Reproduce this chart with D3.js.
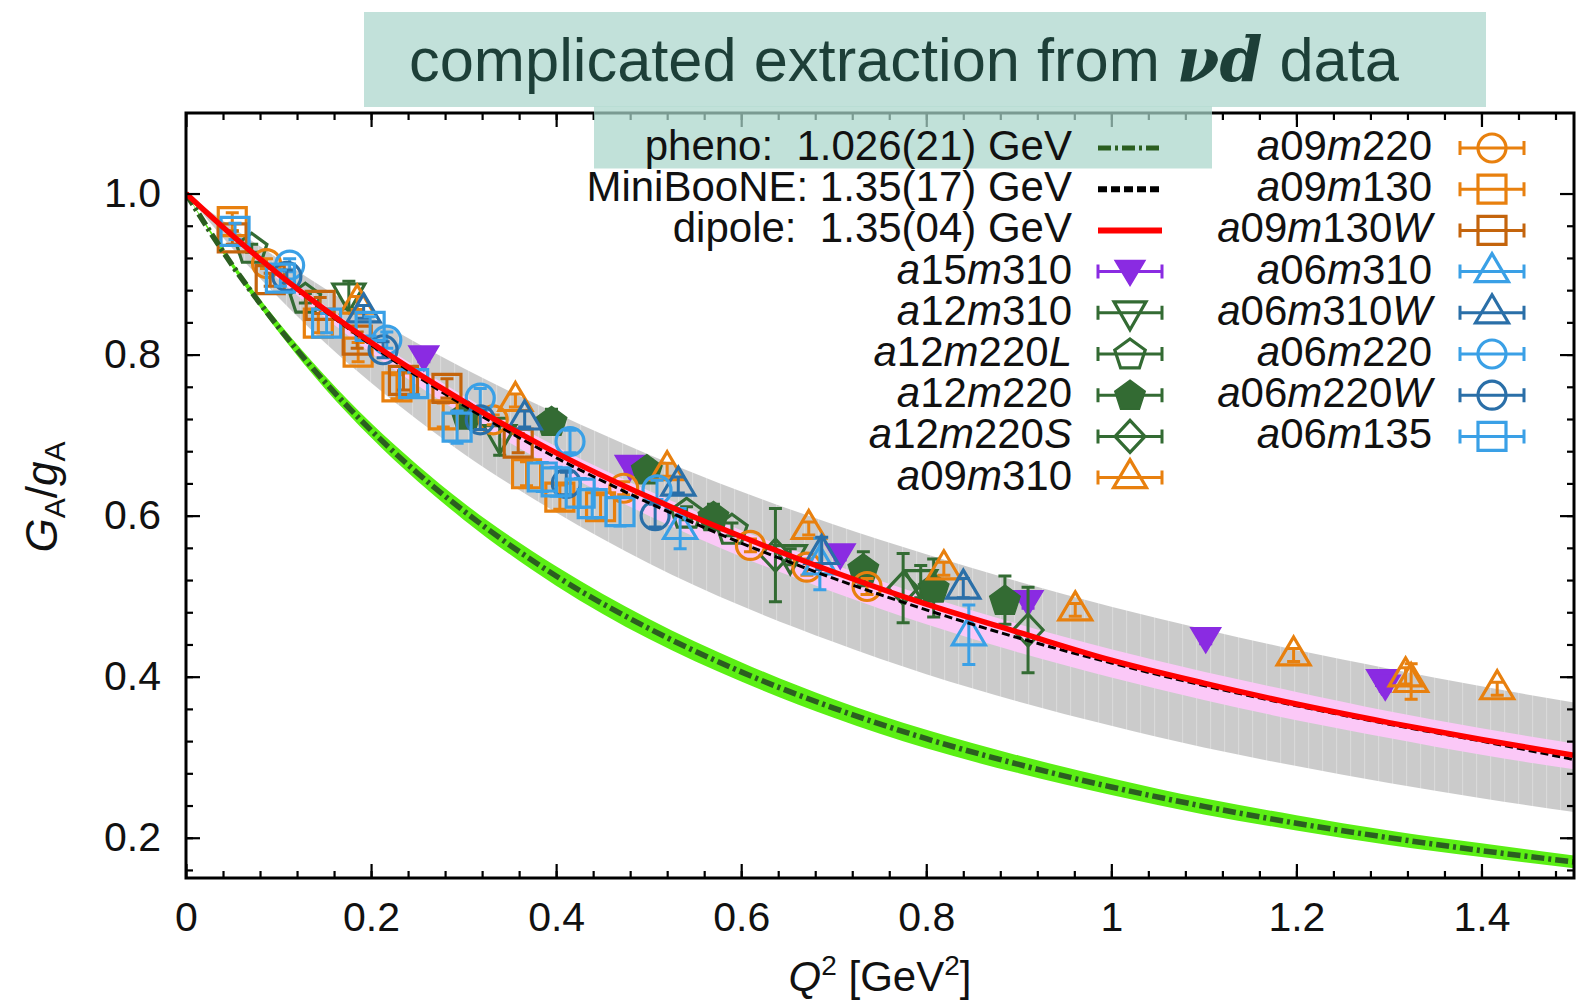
<!DOCTYPE html>
<html>
<head>
<meta charset="utf-8">
<script src="https://cdn.jsdelivr.net/npm/d3@7"></script>
<style>
  html, body { margin: 0; background: #fff; }
  svg { display: block; }
</style>
</head>
<body>
<script>
// ---------- curves ----------
const curveQ   = [0,0.05,0.1,0.15,0.2,0.25,0.3,0.4,0.5,0.6,0.7,0.8,0.9,1.0,1.1,1.2,1.3,1.4,1.5];
const dipoleV  = [1.000,0.948,0.900,0.856,0.815,0.777,0.742,0.678,0.623,0.574,0.530,0.490,0.455,0.4205,0.392,0.366,0.343,0.322,0.3025];
const dipoleLo = [1.000,0.944,0.893,0.846,0.802,0.762,0.725,0.658,0.600,0.549,0.505,0.465,0.430,0.399,0.371,0.346,0.324,0.303,0.285];
const dipoleHi = [1.000,0.950,0.904,0.861,0.821,0.784,0.749,0.686,0.631,0.582,0.539,0.500,0.465,0.434,0.406,0.381,0.357,0.336,0.317];
const mbV      = [1.000,0.947,0.899,0.854,0.812,0.773,0.737,0.672,0.616,0.566,0.522,0.483,0.448,0.417,0.389,0.364,0.341,0.320,0.297];
const mbLo     = [1.000,0.932,0.871,0.815,0.765,0.719,0.677,0.604,0.541,0.488,0.443,0.403,0.369,0.339,0.312,0.289,0.268,0.249,0.232];
const mbHi     = [1.000,0.958,0.919,0.882,0.847,0.814,0.783,0.727,0.676,0.630,0.589,0.552,0.518,0.487,0.459,0.433,0.410,0.388,0.368];
const phenoV   = [1.000,0.911,0.834,0.766,0.706,0.653,0.606,0.525,0.460,0.406,0.361,0.323,0.291,0.263,0.239,0.218,0.200,0.184,0.170];
const phenoLo  = [1.000,0.908,0.828,0.758,0.697,0.643,0.595,0.513,0.447,0.394,0.349,0.311,0.280,0.253,0.229,0.209,0.191,0.176,0.162];
const phenoHi  = [1.000,0.915,0.840,0.774,0.715,0.663,0.616,0.537,0.472,0.418,0.372,0.334,0.302,0.274,0.249,0.228,0.209,0.193,0.178];

// ---------- lattice points (Q^2, G_A/g_A, error) ----------
const a15m310_q  = [0.257,0.480,0.707,0.910,1.102,1.292,1.296];
const a15m310_v  = [0.797,0.661,0.551,0.493,0.447,0.395,0.388];
const a15m310_e  = [0.006,0.006,0.006,0.008,0.006,0.006,0.006];

const a12m310_q  = [0.176,0.339,0.653,0.794];
const a12m310_v  = [0.874,0.698,0.549,0.518];
const a12m310_e  = [0.017,0.023,0.010,0.020];

const a12m220L_q = [0.071,0.129,0.541,0.590];
const a12m220L_v = [0.932,0.870,0.603,0.583];
const a12m220L_e = [0.005,0.006,0.008,0.008];

const a12m220_q  = [0.303,0.395,0.498,0.570,0.732,0.808,0.885];
const a12m220_v  = [0.725,0.717,0.657,0.599,0.534,0.510,0.495];
const a12m220_e  = [0.010,0.015,0.012,0.015,0.021,0.036,0.030];

const a12m220S_q = [0.637,0.775,0.910];
const a12m220S_v = [0.551,0.510,0.458];
const a12m220S_e = [0.058,0.043,0.053];

const a09m310_q  = [0.185,0.356,0.520,0.673,0.819,0.961,1.197,1.318,1.324,1.417];
const a09m310_v  = [0.864,0.743,0.657,0.584,0.534,0.483,0.427,0.401,0.394,0.385];
const a09m310_e  = [0.008,0.008,0.008,0.008,0.008,0.008,0.008,0.010,0.022,0.008];

const a09m220_q  = [0.087,0.332,0.473,0.610,0.671,0.736];
const a09m220_v  = [0.913,0.719,0.634,0.563,0.536,0.512];
const a09m220_e  = [0.006,0.006,0.008,0.008,0.010,0.010];

const a09m130_q  = [0.050,0.143,0.186,0.228,0.278,0.368,0.404,0.448];
const a09m130_v  = [0.965,0.839,0.803,0.760,0.725,0.652,0.623,0.611];
const a09m130_e  = [0.011,0.012,0.012,0.015,0.015,0.015,0.015,0.015];

const a09m130W_q = [0.050,0.091,0.145,0.185,0.235,0.282,0.359];
const a09m130W_v = [0.945,0.893,0.861,0.818,0.768,0.758,0.690];
const a09m130W_e = [0.008,0.008,0.010,0.010,0.012,0.012,0.012];

const a06m310_q  = [0.534,0.685,0.846];
const a06m310_v  = [0.584,0.540,0.452];
const a06m310_e  = [0.025,0.032,0.037];

const a06m310W_q = [0.192,0.366,0.532,0.687,0.840];
const a06m310W_v = [0.853,0.720,0.638,0.553,0.510];
const a06m310W_e = [0.008,0.010,0.010,0.020,0.012];

const a06m220_q  = [0.112,0.217,0.318,0.415,0.509];
const a06m220_v  = [0.911,0.818,0.746,0.692,0.632];
const a06m220_e  = [0.008,0.010,0.012,0.014,0.012];

const a06m220W_q = [0.109,0.213,0.318,0.411,0.507];
const a06m220W_v = [0.897,0.806,0.719,0.640,0.600];
const a06m220W_e = [0.008,0.010,0.012,0.014,0.014];

const a06m135_q  = [0.053,0.102,0.152,0.199,0.246,0.293,0.385,0.400,0.426,0.439,0.469];
const a06m135_v  = [0.953,0.895,0.839,0.835,0.764,0.710,0.648,0.642,0.628,0.615,0.605];
const a06m135_e  = [0.010,0.010,0.012,0.012,0.014,0.020,0.018,0.018,0.018,0.018,0.018];

// ---------- ticks / text ----------
const xTickVals   = [0,0.2,0.4,0.6,0.8,1.0,1.2,1.4];
const xTickLabels = ["0","0.2","0.4","0.6","0.8","1","1.2","1.4"];
const yTickVals   = [0.2,0.4,0.6,0.8,1.0];
const yTickLabels = ["0.2","0.4","0.6","0.8","1.0"];
const fitLabels   = ["pheno:  1.026(21) GeV", "MiniBooNE: 1.35(17) GeV", "dipole:  1.35(04) GeV"];

// ---------- style table ----------
const C = {
  purple:"#8a2be2", green:"#336b33", orange:"#e8800e", brown:"#c4640c",
  lblue:"#3aa0e6", dblue:"#2a6fa8"
};
const series = [
  {id:"a15m310",  q:a15m310_q,  v:a15m310_v,  e:a15m310_e,  color:C.purple, shape:"td", fill:true,  col:0},
  {id:"a12m310",  q:a12m310_q,  v:a12m310_v,  e:a12m310_e,  color:C.green,  shape:"tdo",fill:false, col:0},
  {id:"a12m220L", q:a12m220L_q, v:a12m220L_v, e:a12m220L_e, color:C.green,  shape:"pe", fill:false, col:0},
  {id:"a12m220",  q:a12m220_q,  v:a12m220_v,  e:a12m220_e,  color:C.green,  shape:"pe", fill:true,  col:0},
  {id:"a12m220S", q:a12m220S_q, v:a12m220S_v, e:a12m220S_e, color:C.green,  shape:"di", fill:false, col:0},
  {id:"a09m310",  q:a09m310_q,  v:a09m310_v,  e:a09m310_e,  color:C.orange, shape:"tu", fill:false, col:0},
  {id:"a09m220",  q:a09m220_q,  v:a09m220_v,  e:a09m220_e,  color:C.orange, shape:"ci", fill:false, col:1},
  {id:"a09m130",  q:a09m130_q,  v:a09m130_v,  e:a09m130_e,  color:C.orange, shape:"sq", fill:false, col:1},
  {id:"a09m130W", q:a09m130W_q, v:a09m130W_v, e:a09m130W_e, color:C.brown,  shape:"sq", fill:false, col:1},
  {id:"a06m310",  q:a06m310_q,  v:a06m310_v,  e:a06m310_e,  color:C.lblue,  shape:"tu", fill:false, col:1},
  {id:"a06m310W", q:a06m310W_q, v:a06m310W_v, e:a06m310W_e, color:C.dblue,  shape:"tu", fill:false, col:1},
  {id:"a06m220",  q:a06m220_q,  v:a06m220_v,  e:a06m220_e,  color:C.lblue,  shape:"ci", fill:false, col:1},
  {id:"a06m220W", q:a06m220W_q, v:a06m220W_v, e:a06m220W_e, color:C.dblue,  shape:"ci", fill:false, col:1},
  {id:"a06m135",  q:a06m135_q,  v:a06m135_v,  e:a06m135_e,  color:C.lblue,  shape:"sq", fill:false, col:1}
];

function shapeD(s) {
  if (s === "sq") return "M-14,-14H14V14H-14Z";
  if (s === "tu") return "M0,-18L16.5,10L-16.5,10Z";
  if (s === "td") return "M0,14L15,-11L-15,-11Z";
  if (s === "tdo") return "M0,17L16,-11L-16,-11Z";
  if (s === "di") return "M0,-16L15,0L0,16L-15,0Z";
  if (s === "ci") return "M14,0A14,14 0 1,1 -14,0A14,14 0 1,1 14,0Z";
  if (s === "pe") {
    const p = d3.range(5).map(k => {
      const a = -Math.PI / 2 + k * 2 * Math.PI / 5;
      return [16 * Math.cos(a), 16 * Math.sin(a) + 1];
    });
    return "M" + p.map(d => d.join(",")).join("L") + "Z";
  }
}

// ---------- canvas ----------
const W = 1589, H = 1001;
const FONT = "'Liberation Sans', Arial, sans-serif";
const svg = d3.select("body").append("svg")
  .attr("width", W).attr("height", H)
  .attr("font-family", FONT);

const x = d3.scaleLinear([0, 1.5], [186, 1574]);
const y = d3.scaleLinear([0.15, 1.1], [878, 113]);

const defs = svg.append("defs");
defs.append("clipPath").attr("id", "plotclip").append("rect")
  .attr("x", 186).attr("y", 113).attr("width", 1388).attr("height", 765);
const pat = defs.append("pattern").attr("id", "mesh")
  .attr("patternUnits", "userSpaceOnUse").attr("width", 14).attr("height", 10);
pat.append("rect").attr("width", 14).attr("height", 10).attr("fill", "#cbcbcb");
pat.append("rect").attr("x", 6).attr("width", 1.2).attr("height", 10).attr("fill", "#d9d9d9");

// ---------- title ----------
svg.append("rect").attr("x", 364).attr("y", 12).attr("width", 1122).attr("height", 95)
  .attr("fill", "#c2e1da");
const title = svg.append("text")
  .attr("x", 904).attr("y", 81).attr("text-anchor", "middle")
  .attr("font-size", 62).attr("fill", "#1d3f38")
  .attr("textLength", 990).attr("lengthAdjust", "spacingAndGlyphs")
  .style("white-space", "pre");
title.append("tspan").text("complicated extraction from ");
title.append("tspan").attr("font-family", "'DejaVu Serif', 'Liberation Serif', serif")
  .attr("font-style", "italic").attr("font-weight", "bold").text("νd");
title.append("tspan").text(" data");

// ---------- plot body ----------
const body = svg.append("g").attr("clip-path", "url(#plotclip)");
const band = (lo, hi) => d3.area()
  .x((d, i) => x(curveQ[i])).y0((d, i) => y(lo[i])).y1((d, i) => y(hi[i]))
  .curve(d3.curveMonotoneX)(curveQ);
const line = vals => d3.line()
  .x((d, i) => x(curveQ[i])).y((d, i) => y(vals[i]))
  .curve(d3.curveMonotoneX)(curveQ);

body.append("path").attr("d", band(mbLo, mbHi)).attr("fill", "url(#mesh)");
body.append("path").attr("d", band(phenoLo, phenoHi)).attr("fill", "#5bef14");
body.append("path").attr("d", band(dipoleLo, dipoleHi)).attr("fill", "#fbc8f7");

// points with error bars
series.forEach(s => {
  const g = body.append("g").attr("stroke", s.color).attr("stroke-width", 3).attr("fill", "none");
  s.q.forEach((q, i) => {
    const px = x(q), y0 = y(s.v[i] - s.e[i]), y1 = y(s.v[i] + s.e[i]);
    g.append("path").attr("d", `M${px},${y0}V${y1}M${px - 6.5},${y0}H${px + 6.5}M${px - 6.5},${y1}H${px + 6.5}`);
    g.append("path").attr("d", shapeD(s.shape))
      .attr("transform", `translate(${px},${y(s.v[i])})`)
      .attr("fill", s.fill ? s.color : "none")
      .attr("stroke-width", s.fill ? 1.5 : 3.2)
      .attr("stroke-linejoin", "miter");
  });
});

body.append("path").attr("d", line(phenoV)).attr("fill", "none")
  .attr("stroke", "#2b5e20").attr("stroke-width", 5.5).attr("stroke-dasharray", "13,4,3,4");
body.append("path").attr("d", line(mbV)).attr("fill", "none")
  .attr("stroke", "#000").attr("stroke-width", 3).attr("stroke-dasharray", "8,4");
body.append("path").attr("d", line(dipoleV)).attr("fill", "none")
  .attr("stroke", "#ff0000").attr("stroke-width", 5.5);

// ---------- axes ----------
const minorX = d3.range(1, 38).map(k => k * 0.04);
const minorY = d3.range(4, 25).map(k => k * 0.04);
function styleAxis(g) {
  g.select(".domain").remove();
  g.selectAll("line").attr("stroke", "#000").attr("stroke-width", 2.2);
  g.selectAll("text").attr("font-family", FONT).attr("font-size", 41).attr("fill", "#111");
}
svg.append("g").attr("transform", "translate(0,878)")
  .call(d3.axisBottom(x).tickValues(minorX).tickSize(-7).tickFormat("")).call(styleAxis);
svg.append("g").attr("transform", "translate(0,113)")
  .call(d3.axisTop(x).tickValues(minorX).tickSize(-7).tickFormat("")).call(styleAxis);
svg.append("g").attr("transform", "translate(186,0)")
  .call(d3.axisLeft(y).tickValues(minorY).tickSize(-7).tickFormat("")).call(styleAxis);
svg.append("g").attr("transform", "translate(1574,0)")
  .call(d3.axisRight(y).tickValues(minorY).tickSize(-7).tickFormat("")).call(styleAxis);

svg.append("g").attr("transform", "translate(0,878)")
  .call(d3.axisBottom(x).tickValues(xTickVals).tickSize(-14).tickPadding(24)
    .tickFormat((d, i) => xTickLabels[i])).call(styleAxis);
svg.append("g").attr("transform", "translate(0,113)")
  .call(d3.axisTop(x).tickValues(xTickVals).tickSize(-14).tickFormat("")).call(styleAxis);
svg.append("g").attr("transform", "translate(186,0)")
  .call(d3.axisLeft(y).tickValues(yTickVals).tickSize(-14).tickPadding(25)
    .tickFormat((d, i) => yTickLabels[i])).call(styleAxis);
svg.append("g").attr("transform", "translate(1574,0)")
  .call(d3.axisRight(y).tickValues(yTickVals).tickSize(-14).tickFormat("")).call(styleAxis);

svg.append("rect").attr("x", 186).attr("y", 113).attr("width", 1388).attr("height", 765)
  .attr("fill", "none").attr("stroke", "#000").attr("stroke-width", 3);

// axis titles
const yl = svg.append("text").attr("transform", "translate(57,497) rotate(-90)")
  .attr("text-anchor", "middle").attr("font-size", 44).attr("fill", "#111");
yl.append("tspan").attr("font-style", "italic").text("G");
yl.append("tspan").attr("font-size", 30).attr("dy", 8).text("A");
yl.append("tspan").attr("dy", -8).text("/");
yl.append("tspan").attr("font-style", "italic").text("g");
yl.append("tspan").attr("font-size", 30).attr("dy", 8).text("A");

const xl = svg.append("text").attr("x", 880).attr("y", 991)
  .attr("text-anchor", "middle").attr("font-size", 42).attr("fill", "#111")
  .style("white-space", "pre");
xl.append("tspan").attr("font-style", "italic").text("Q");
xl.append("tspan").attr("font-size", 28).attr("dy", -16).text("2");
xl.append("tspan").attr("dy", 16).text(" [GeV");
xl.append("tspan").attr("font-size", 28).attr("dy", -16).text("2");
xl.append("tspan").attr("dy", 16).text("]");

// ---------- legend ----------
svg.append("rect").attr("x", 594).attr("y", 106.5).attr("width", 618).attr("height", 62)
  .attr("fill", "#a9d6cb").attr("opacity", 0.72);

const rowY = k => 148 + k * 41.2;
const colText = [1072, 1432], colSym = [1130, 1492];

function labelText(g, id, xx, yy) {
  const t = g.append("text").attr("x", xx).attr("y", yy + 12)
    .attr("text-anchor", "end").attr("font-size", 42).attr("fill", "#111");
  id.match(/[a-zA-Z]+|[0-9]+/g).forEach(part => {
    const sp = t.append("tspan").text(part);
    if (/[a-zA-Z]/.test(part)) sp.attr("font-style", "italic");
  });
}

const leg = svg.append("g");
fitLabels.forEach((lab, k) => {
  leg.append("text").attr("x", colText[0]).attr("y", rowY(k) + 12)
    .attr("text-anchor", "end").attr("font-size", 42).attr("fill", "#111")
    .style("white-space", "pre").text(lab);
});
leg.append("line").attr("x1", 1098).attr("x2", 1162).attr("y1", rowY(0)).attr("y2", rowY(0))
  .attr("stroke", "#2b5e20").attr("stroke-width", 5).attr("stroke-dasharray", "13,4,3,4");
leg.append("line").attr("x1", 1098).attr("x2", 1162).attr("y1", rowY(1)).attr("y2", rowY(1))
  .attr("stroke", "#000").attr("stroke-width", 6).attr("stroke-dasharray", "9,4");
leg.append("line").attr("x1", 1098).attr("x2", 1162).attr("y1", rowY(2)).attr("y2", rowY(2))
  .attr("stroke", "#ff0000").attr("stroke-width", 6);

let rows = [3, 0];
series.forEach(s => {
  const k = rows[s.col]++;
  const cy = rowY(k), cx = colSym[s.col];
  labelText(leg, s.id, colText[s.col], cy);
  const g = leg.append("g").attr("stroke", s.color).attr("stroke-width", 3).attr("fill", "none");
  g.append("path").attr("d", `M${cx - 32},${cy}H${cx + 32}M${cx - 32},${cy - 7}V${cy + 7}M${cx + 32},${cy - 7}V${cy + 7}`);
  g.append("path").attr("d", shapeD(s.shape)).attr("transform", `translate(${cx},${cy})`)
    .attr("fill", s.fill ? s.color : "none").attr("stroke-width", s.fill ? 1.5 : 3.2);
});
</script>
</body>
</html>
